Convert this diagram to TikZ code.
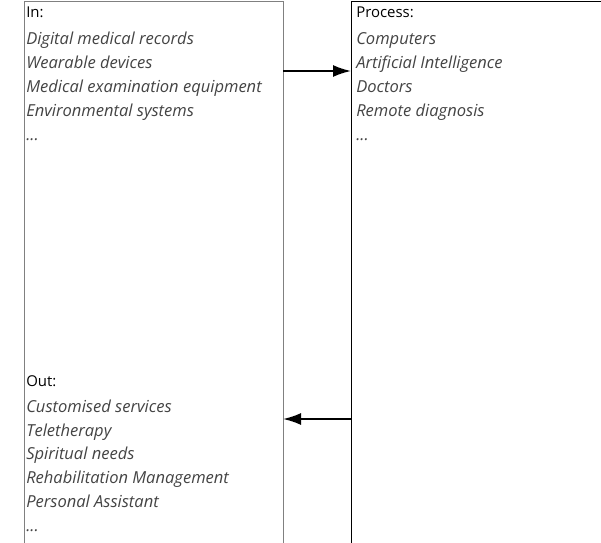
\documentclass[tikz,border=0pt]{standalone}
\usepackage{fontspec}
\setmainfont{Open Sans}
\usetikzlibrary{arrows.meta}
\definecolor{boxgray}{HTML}{808080}
\definecolor{itemgray}{HTML}{444444}
\tikzset{
  leftbox/.style={draw=boxgray, line width=1.1pt, rectangle, anchor=north west, inner sep=0pt},
  rightbox/.style={draw=black, line width=1pt, rectangle, anchor=north west, inner sep=0pt},
  listtext/.style={anchor=north west, align=left, inner sep=0pt, font=\fontsize{12.4}{18.1}\selectfont},
  flow/.style={draw=black, line width=1.4pt, -{Latex[length=13.5pt,width=9pt]}},
}
\newcommand{\itm}[1]{{\itshape\color{itemgray}#1}}
\newcommand{\ttl}[1]{{\fontsize{11.2}{18.1}\selectfont #1}}
\begin{document}
\begin{tikzpicture}[x=0.75pt,y=-0.75pt]
\useasboundingbox (0,0) rectangle (601,543);
\clip (0,0) rectangle (601,543);
\fill[white] (0,0) rectangle (601,543);
\node[leftbox, minimum width=259*0.75pt, minimum height=600*0.75pt] (inbox) at (24,1) {};
\node[rightbox, minimum width=300*0.75pt, minimum height=600*0.75pt] (procbox) at (351,1) {};
\node[listtext] (intext) at (26,6.5) {\ttl{In:}\\[2pt] \itm{Digital medical records}\\ \itm{Wearable devices}\\ \itm{Medical examination equipment}\\ \itm{Environmental systems}\\ \itm{...}};
\node[listtext] (proctext) at (356,6.5) {\ttl{Process:}\\[2pt] \itm{Computers}\\ \itm{Artificial Intelligence}\\ \itm{Doctors}\\ \itm{Remote diagnosis}\\ \itm{...}};
\node[listtext, font=\fontsize{12.4}{17.8}\selectfont] (outtext) at (26,375) {\ttl{Out:}\\[2pt] \itm{Customised services}\\ \itm{Teletherapy}\\ \itm{Spiritual needs}\\ \itm{Rehabilitation Management}\\ \itm{Personal Assistant}\\ \itm{...}};
\coordinate (a1) at (283,71);
\coordinate (a2) at (351,71);
\coordinate (b1) at (351,419);
\coordinate (b2) at (283,419);
\draw[flow] (a1) -- (a2);
\draw[flow] (b1) -- (b2);
\end{tikzpicture}
\end{document}
